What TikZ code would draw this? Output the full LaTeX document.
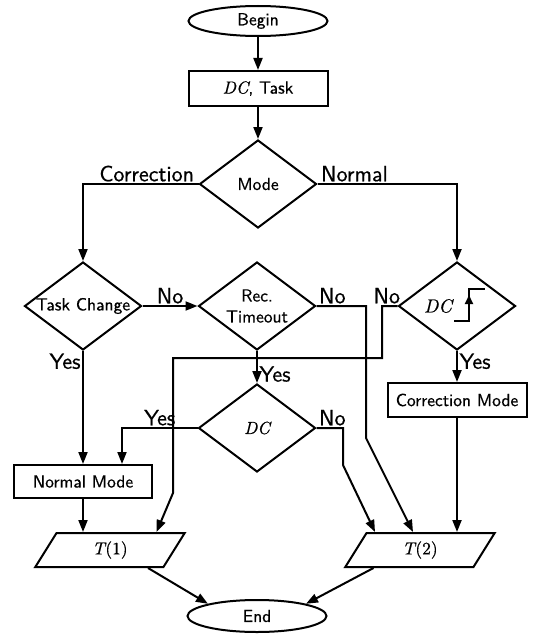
\documentclass[tikz,border=0pt]{standalone}
\usepackage{fontspec}
\usetikzlibrary{shapes.geometric,arrows.meta,calc}
\newfontfamily\myHeavySans{lmsans10-regular.otf}[FakeBold=0.6]
\newfontfamily\myHeavyIt{lmroman10-italic.otf}[FakeBold=0.6]
\newfontfamily\myHeavyRm{lmroman10-regular.otf}[FakeBold=0.6]
\newcommand\myNodeFont{\fontsize{17.5}{20}\selectfont\myHeavySans}
\newcommand\myLabelFont{\fontsize{22}{24}\selectfont\myHeavySans}
\newcommand\myDC{{\myHeavyIt DC}}
\newcommand\myT[1]{{\myHeavyIt T\kern0.5pt}{\myHeavyRm(#1)}}
\begin{document}
\begin{tikzpicture}[x=1pt,y=-1pt,line width=2pt,
  box/.style={draw,rectangle,inner sep=0pt,font=\myNodeFont},
  dia/.style={draw,diamond,inner sep=0pt,minimum width=117pt,minimum height=88pt},
  ell/.style={draw,ellipse,inner sep=0pt,minimum width=139pt,minimum height=30pt,font=\myNodeFont},
  para/.style={draw,trapezium,trapezium left angle=70,trapezium right angle=110,
     trapezium stretches=true,minimum width=150pt,minimum height=34pt,inner sep=2pt,font=\myNodeFont},
  txt/.style={font=\myNodeFont,inner sep=0pt,align=center},
  lbl/.style={font=\myLabelFont,inner sep=1.5pt},
  arr/.style={-{Triangle[length=12pt,width=9pt]}}]
\useasboundingbox (0,0) rectangle (533,634);

% nodes
\node[ell] (begin) at (258,21) {Begin};
\node[box,minimum width=139pt,minimum height=35pt] (dctask) at (258,88.5) {\myDC, Task};
\node[dia] (mode) at (258,184) {};
\node[txt] (modet) at (mode) {Mode};
\node[dia] (tc) at (83,306) {};
\node[txt] (tct) at (tc) {Task Change};
\node[dia] (rt) at (257,306) {};
\node[txt] (rtt) at (rt) {Rec.\\[1pt]Timeout};
\node[dia] (dcr) at (457,306) {};
\node[txt] (dcrt) at ([xshift=-19pt]dcr.center) {\fontsize{19}{20}\selectfont\myDC};
\node[dia] (dc) at (257,428) {};
\node[txt] (dct) at (dc) {\myDC};
\node[box,minimum width=138pt,minimum height=33pt] (nm) at (83,481.5) {Normal Mode};
\node[box,minimum width=139pt,minimum height=34pt] (cm) at (457,400) {Correction Mode};
\node[para] (t1) at (110,550) {\myT{1}};
\node[para] (t2) at (420,550) {\myT{2}};
\node[ell,minimum height=32pt] (end) at (257,616) {End};

% rising edge symbol
\begin{scope}[shift={(dcr.center)}]
  \draw (-3,15) -- (12,15) -- (12,-17) -- (28,-17);
  \draw[-{Triangle[length=9pt,width=8pt]}] (12,8) -- (12,-11);
\end{scope}

% coordinates for bends
\coordinate (a1) at (366,438);
\coordinate (a2) at (343,465);
\coordinate (b1) at (382,358);
\coordinate (b2) at (173,493);

% connectors
\draw[arr] (begin) -- (dctask);
\draw[arr] (dctask) -- (mode.north);
\draw[arr] (mode.west) -| (tc.north);
\node[lbl,anchor=south east] (lcorr) at ([xshift=-2pt]mode.west) {Correction};
\draw[arr] (mode.east) -| (dcr.north);
\node[lbl,anchor=south west] (lnorm) at ([xshift=1pt]mode.east) {Normal};
\draw[arr] (tc.east) -- node[lbl,above] (lno1) {No} (rt.west);
\draw[arr] (tc.south) -- (nm.north);
\node[lbl,anchor=north east] (lyes1) at (tc.south) {Yes};
\draw[arr] (rt.east) -| (a1) -- ([xshift=-7pt]t2.north);
\node[lbl,anchor=south west] (lno2) at (rt.east) {No};
\draw[arr] (rt.south) -- node[lbl,pos=0.72,right] (lyes2) {Yes} (dc.north);
\draw[arr] (dcr.west) -| (b1) -| (b2) -- ([xshift=-30pt]t1.top right corner);
\node[lbl,anchor=south east] (lno3) at ([xshift=5pt]dcr.west) {No};
\draw[arr] (dcr.south) -- (cm.north);
\node[lbl,anchor=north west] (lyes3) at (dcr.south) {Yes};
\draw[arr] (dc.west) -| node[lbl,pos=0.25,above] (lyes4) {Yes} ([xshift=39pt]nm.north);
\draw[arr] (dc.east) -| (a2) -- ([xshift=-45pt]t2.north);
\node[lbl,anchor=south west] (lno4) at (dc.east) {No};
\draw[arr] (nm.south) -- (nm.south |- t1.north);
\draw[arr] (cm.south) -- (cm.south |- t2.north);
\draw[arr] ([xshift=-16pt]t1.bottom right corner) -- (end.166);
\draw[arr] ([xshift=30pt]t2.bottom left corner) -- (end.14);
\end{tikzpicture}
\end{document}
